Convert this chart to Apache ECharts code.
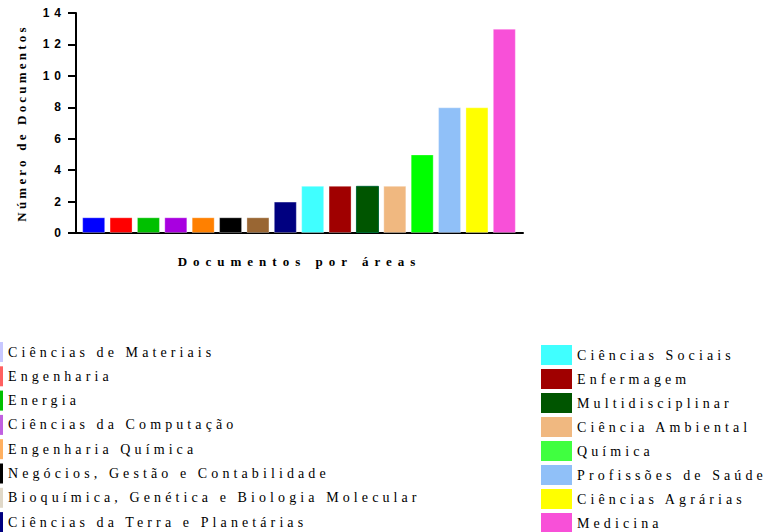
<!DOCTYPE html>
<html><head><meta charset="utf-8">
<script src="https://cdn.jsdelivr.net/npm/echarts@6/dist/echarts.min.js"></script>
<style>
html,body{margin:0;padding:0;background:#fff;overflow:hidden;width:777px;height:532px;}
#c{width:777px;height:600px;}
#c text[style*="Liberation Sans"]{letter-spacing:5px;}
#c text[style*="Liberation Serif"]{letter-spacing:4.1px;}
#c text[style*="Tinos"]{letter-spacing:6px;}
#c text[style*="Times"]{letter-spacing:3.2px;}
</style>
</head><body><div id="c"></div>
<script>
const categories = [
  'Ciências de Materiais','Engenharia','Energia','Ciências da Computação',
  'Engenharia Química','Negócios, Gestão e Contabilidade',
  'Bioquímica, Genética e Biologia Molecular','Ciências da Terra e Planetárias',
  'Ciências Sociais','Enfermagem','Multidisciplinar','Ciência Ambiental',
  'Química','Profissões de Saúde','Ciências Agrárias','Medicina'
];
const documentCounts = [1,1,1,1,1,1,1,2,3,3,3,3,5,8,8,13];
const yTicks = {min:0, max:14, interval:2};
const barColors = ['#0000ff','#ff0000','#00c000','#a800e0','#ff8000','#000000','#996633','#000080',
  '#40ffff','#a00000','#005500','#f0b880','#00ff00','#90c0f8','#ffff00','#f850d8'];
const legendColors = ['#c8c8ff','#ff6060','#00c000','#c060e0','#ffb060','#000000','#e0d8c8','#000080',
  '#40ffff','#a00000','#005500','#f0b880','#40ff40','#90c0f8','#ffff00','#f850d8'];

const H = 600;
const chart = echarts.init(document.getElementById('c'), null, {renderer:'svg'});
const series = categories.map((name, i) => ({
  name: name,
  type: 'bar',
  stack: 'all',
  xAxisIndex: 0, yAxisIndex: 0,
  barWidth: 23,
  itemStyle: {color: barColors[i], borderColor: i === 10 ? '#006633' : 'rgba(255,255,255,0.3)', borderWidth: 1},
  data: documentCounts.map((v, j) => j === i ? v : '-')
}));
const legendItems = categories.map((name, i) => ({name: name, itemStyle: {color: legendColors[i], borderWidth: 0}}));
const legendText = {fontFamily:'Liberation Serif', fontSize:14, color:'#000'};
chart.setOption({
  animation:false,
  backgroundColor:'#fff',
  grid:[
    {left:80, right:259, top:13, bottom:H-233},
    {left:76, right:254, top:13, bottom:H-233}
  ],
  xAxis:[
    {type:'category', gridIndex:0, data:categories, axisLine:{show:false}, axisTick:{show:false}, axisLabel:{show:false}},
    {type:'value', gridIndex:1, min:0, max:1, axisLine:{show:true, lineStyle:{color:'#000', width:2}},
     axisTick:{show:false}, axisLabel:{show:false}, splitLine:{show:false},
     name:'Documentos por áreas', nameLocation:'middle', nameGap:22,
     nameTextStyle:{fontFamily:'Liberation Serif, Tinos', fontWeight:'bold', fontSize:13, color:'#000'}}
  ],
  yAxis:[
    {type:'value', gridIndex:0, offset:4, min:yTicks.min, max:yTicks.max, interval:yTicks.interval,
     axisLine:{show:true, lineStyle:{color:'#000', width:2}},
     axisTick:{show:true, length:8, lineStyle:{color:'#000', width:2}},
     axisLabel:{fontFamily:'Liberation Sans', fontWeight:'bold', fontSize:12, color:'#000', margin:10},
     splitLine:{show:false},
     name:'Número de Documentos', nameLocation:'middle', nameGap:48,
     nameTextStyle:{fontFamily:'Liberation Serif, Times', fontWeight:'bold', fontSize:13, color:'#000'}},
    {type:'value', gridIndex:1, show:false, min:0, max:1}
  ],
  legend:[
    {data:legendItems.slice(0,8), orient:'vertical', left:-22, top:342, padding:0,
     itemWidth:25, itemHeight:20, itemGap:4.3,
     icon:'rect', selectedMode:false, textStyle:legendText},
    {data:legendItems.slice(8), orient:'vertical', left:541, top:345, padding:0,
     itemWidth:31, itemHeight:20, itemGap:4,
     icon:'rect', selectedMode:false, textStyle:legendText}
  ],
  series: series
});
</script>
</body></html>
